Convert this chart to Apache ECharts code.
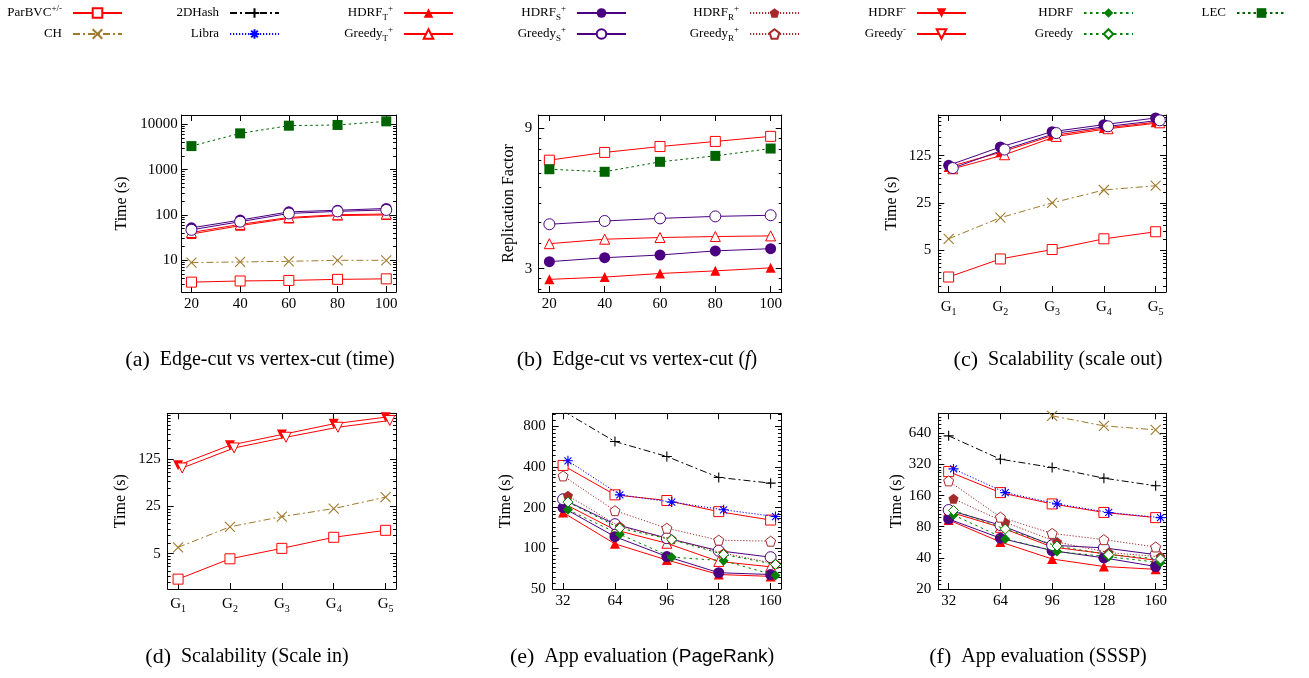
<!DOCTYPE html>
<html><head><meta charset="utf-8">
<script src="https://cdn.jsdelivr.net/npm/echarts@6/dist/echarts.min.js"></script>
<style>html,body{margin:0;padding:0;background:#fff}#c{width:1309px;height:678px}</style>
</head><body><div id="c"></div>
<script>
// ---------------- data ----------------
const xTime = [20, 40, 60, 80, 100];      // (a),(b)
const xScale = [1, 2, 3, 4, 5];           // G1..G5  (c),(d)
const xApp = [32, 64, 96, 128, 160];      // (e),(f)

// (a) Edge-cut vs vertex-cut (time)
const a_ParBVC = [3.3, 3.5, 3.6, 3.8, 3.9];
const a_CH = [8.9, 9.2, 9.5, 10.0, 10.0];
const a_HDRF_T = [38, 58, 84, 97, 100];
const a_Greedy_T = [41, 62, 88, 101, 105];
const a_HDRF_S = [52, 77, 117, 127, 139];
const a_Greedy_S = [47, 71, 108, 120, 129];
const a_LEC = [3300, 6300, 9300, 9650, 11600];

// (b) Edge-cut vs vertex-cut (f)
const b_ParBVC = [7.02, 7.46, 7.81, 8.13, 8.46];
const b_HDRF_T = [2.76, 2.81, 2.89, 2.95, 3.02];
const b_Greedy_T = [3.65, 3.78, 3.83, 3.86, 3.88];
const b_HDRF_S = [3.17, 3.27, 3.34, 3.45, 3.51];
const b_Greedy_S = [4.25, 4.36, 4.45, 4.52, 4.56];
const b_LEC = [6.54, 6.41, 6.93, 7.26, 7.69];

// (c) Scalability (scale out)
const c_ParBVC = [2.0, 3.7, 5.1, 7.35, 9.35];
const c_CH = [7.35, 15.1, 25, 38.8, 44.9];
const c_HDRF_T = [85, 140, 247, 321, 390];
const c_Greedy_T = [80, 129, 241, 313, 383];
const c_HDRF_S = [90, 168, 283, 360, 452];
const c_Greedy_S = [82, 154, 270, 340, 417];

// (d) Scalability (Scale in)
const d_ParBVC = [2.1, 4.2, 6.0, 8.75, 11.1];
const d_CH = [6.2, 12.5, 17.7, 23.3, 34.4];
const d_HDRF_m = [102, 202, 291, 419, 526];
const d_Greedy_m = [93, 184, 265, 373, 469];

// (e) App evaluation (PageRank)
const e_ParBVC = [411, 249, 226, 187, 162];
const e_2DHash = [1040, 618, 479, 335, 304];
const e_Libra = [445, 249, 220, 193, 172];
const e_HDRF_T = [184, 108, 82, 64, 62];
const e_Greedy_T = [216, 137, 109, 80, 73];
const e_HDRF_S = [200, 122, 87, 66, 64];
const e_Greedy_S = [231, 151, 119, 96, 86];
const e_HDRF_R = [245, 145, 117, 92, 77];
const e_Greedy_R = [344, 190, 141, 115, 113];
const e_HDRF = [193, 127, 86, 81, 63];
const e_Greedy = [220, 141, 116, 90, 76];

// (f) App evaluation (SSSP)
const f_ParBVC = [273, 171, 133, 110, 98];
const f_CH = [null, null, 945, 756, 692];
const f_2DHash = [605, 360, 299, 236, 199];
const f_Libra = [290, 171, 133, 110, 98];
const f_HDRF_T = [93, 57, 39, 33, 31];
const f_Greedy_T = [112, 79, 51, 44, 38];
const f_HDRF_S = [95, 62, 47, 40, 33];
const f_Greedy_S = [116, 83, 53, 50, 43];
const f_HDRF_R = [149, 88, 57, 45, 41];
const f_Greedy_R = [222, 99, 69, 60, 51];
const f_HDRF = [104, 61, 46, 41, 36];
const f_Greedy = [115, 76, 52, 43, 39];

// tick labels
const ticksA = [10, 100, 1000, 10000];
const ticksB = [3, 9];
const ticksCD = [5, 25, 125];
const ticksE = [50, 100, 200, 400, 800];
const ticksF = [20, 40, 80, 160, 320, 640];

// ---------------- styles ----------------
const F = "'Liberation Serif','Times New Roman',serif";
const SANS = "'Liberation Sans','DejaVu Sans',sans-serif";
const X_PATH = 'path://M0,0L10,10M10,0L0,10';
const PLUS_PATH = 'path://M5,0L5,10M0,5L10,5';
const STAR_PATH = 'path://M5,0L5,10M0,5L10,5M1.5,1.5L8.5,8.5M8.5,1.5L1.5,8.5';
const PENT = 'path://M5,0L9.76,3.45L7.94,9.05L2.06,9.05L0.24,3.45Z';
const RED = '#ff0000', PUR = '#4b0082', BRN = '#a52a2a', GRN = '#008000', DGRN = '#006400', GOLD = '#a07a2c';
const STY = {
  'ParBVC+/-': {c: RED, sym: 'rect', mode: 'open', dash: 'solid'},
  'CH': {c: GOLD, sym: X_PATH, mode: 'stroke', dash: [7, 3, 2, 3]},
  '2DHash': {c: '#000', sym: PLUS_PATH, mode: 'stroke', dash: [7, 3, 2, 3]},
  'Libra': {c: '#0000ff', sym: STAR_PATH, mode: 'stroke', dash: [1.2, 1.8]},
  'HDRF_T+': {c: RED, sym: 'triangle', mode: 'fill', dash: 'solid'},
  'Greedy_T+': {c: RED, sym: 'triangle', mode: 'open', dash: 'solid'},
  'HDRF_S+': {c: PUR, sym: 'circle', mode: 'fill', dash: 'solid'},
  'Greedy_S+': {c: PUR, sym: 'circle', mode: 'open', dash: 'solid'},
  'HDRF_R+': {c: BRN, sym: PENT, mode: 'fill', dash: [1.2, 1.8]},
  'Greedy_R+': {c: BRN, sym: PENT, mode: 'open', dash: [1.2, 1.8]},
  'HDRF-': {c: RED, sym: 'triangle', mode: 'fill', dash: 'solid', rot: 180},
  'Greedy-': {c: RED, sym: 'triangle', mode: 'open', dash: 'solid', rot: 180},
  'HDRF': {c: GRN, sym: 'diamond', mode: 'fill', dash: [2.5, 3.5]},
  'Greedy': {c: GRN, sym: 'diamond', mode: 'open', dash: [2.5, 3.5]},
  'LEC': {c: DGRN, sym: 'rect', mode: 'fill', dash: [2.5, 3]}
};

function minors(majors, lo, hi) {
  const r = majors[1] / majors[0];
  const ext = [majors[0] / r].concat(majors, [majors[majors.length - 1] * r]);
  const out = [];
  for (let i = 0; i < ext.length - 1; i++) {
    const a = ext[i], b = ext[i + 1];
    for (let k = 1; k < 9; k++) {
      const v = a + k * (b - a) / 9;
      if (v > lo && v < hi) out.push(v);
    }
  }
  return out;
}

const gFmt = v => '{g|G}{s|' + v + '}';
const gRich = {
  g: {fontFamily: F, fontSize: 15, color: '#000', lineHeight: 20},
  s: {fontFamily: F, fontSize: 10, color: '#000', lineHeight: 10, verticalAlign: 'bottom'}
};

const panels = [
  {g: [181.7, 115, 214.3, 177], xmin: 16, xmax: 104, xt: xTime, xf: null,
   ymin: 2, ymax: 16000, yt: ticksA, yname: 'Time (s)', gap: 52, lm: 4,
   series: [['ParBVC+/-', xTime, a_ParBVC, 0], ['CH', xTime, a_CH, 0], ['HDRF_T+', xTime, a_HDRF_T, 0],
            ['Greedy_T+', xTime, a_Greedy_T, 0], ['HDRF_S+', xTime, a_HDRF_S, 0], ['Greedy_S+', xTime, a_Greedy_S, 0],
            ['LEC', xTime, a_LEC, 0]]},
  {g: [538.3, 115, 243.4, 177], xmin: 16, xmax: 104, xt: xTime, xf: null,
   ymin: 2.5, ymax: 10, yt: ticksB, yname: 'Replication Factor', gap: 22, lm: 6,
   series: [['ParBVC+/-', xTime, b_ParBVC, 0], ['HDRF_T+', xTime, b_HDRF_T, 0], ['Greedy_T+', xTime, b_Greedy_T, 0],
            ['HDRF_S+', xTime, b_HDRF_S, 0], ['Greedy_S+', xTime, b_Greedy_S, 0], ['LEC', xTime, b_LEC, 0]]},
  {g: [938.3, 115, 227.7, 177], xmin: 0.8, xmax: 5.2, xt: xScale, xf: gFmt,
   ymin: 1.2, ymax: 500, yt: ticksCD, yname: 'Time (s)', gap: 39, lm: 7,
   series: [['ParBVC+/-', xScale, c_ParBVC, 0], ['CH', xScale, c_CH, 0], ['HDRF_T+', xScale, c_HDRF_T, 0],
            ['Greedy_T+', xScale, c_Greedy_T, 0.08], ['HDRF_S+', xScale, c_HDRF_S, 0], ['Greedy_S+', xScale, c_Greedy_S, 0.08]]},
  {g: [167.7, 413.3, 228.3, 175.7], xmin: 0.8, xmax: 5.2, xt: xScale, xf: gFmt,
   ymin: 1.5, ymax: 600, yt: ticksCD, yname: 'Time (s)', gap: 39, lm: 7,
   series: [['ParBVC+/-', xScale, d_ParBVC, 0], ['CH', xScale, d_CH, 0], ['HDRF-', xScale, d_HDRF_m, 0],
            ['Greedy-', xScale, d_Greedy_m, 0.08]]},
  {g: [552.7, 413.3, 228.3, 175.7], xmin: 25.6, xmax: 166.4, xt: xApp, xf: null,
   ymin: 50, ymax: 1000, yt: ticksE, yname: 'Time (s)', gap: 39, lm: 7,
   series: [['ParBVC+/-', xApp, e_ParBVC, 0], ['2DHash', xApp, e_2DHash, 0], ['Libra', xApp, e_Libra, 3],
            ['HDRF_T+', xApp, e_HDRF_T, 0], ['Greedy_T+', xApp, e_Greedy_T, 0], ['HDRF_S+', xApp, e_HDRF_S, 0],
            ['Greedy_S+', xApp, e_Greedy_S, 0], ['HDRF_R+', xApp, e_HDRF_R, 3], ['Greedy_R+', xApp, e_Greedy_R, 0],
            ['HDRF', xApp, e_HDRF, 3], ['Greedy', xApp, e_Greedy, 3]]},
  {g: [938.3, 413.3, 227.7, 175.7], xmin: 25.6, xmax: 166.4, xt: xApp, xf: null,
   ymin: 20, ymax: 1000, yt: ticksF, yname: 'Time (s)', gap: 34, lm: 7,
   series: [['ParBVC+/-', xApp, f_ParBVC, 0], ['CH', xApp, f_CH, 0], ['2DHash', xApp, f_2DHash, 0],
            ['Libra', xApp, f_Libra, 3], ['HDRF_T+', xApp, f_HDRF_T, 0], ['Greedy_T+', xApp, f_Greedy_T, 0],
            ['HDRF_S+', xApp, f_HDRF_S, 0], ['Greedy_S+', xApp, f_Greedy_S, 0], ['HDRF_R+', xApp, f_HDRF_R, 3],
            ['Greedy_R+', xApp, f_Greedy_R, 0], ['HDRF', xApp, f_HDRF, 3], ['Greedy', xApp, f_Greedy, 3]]}
];

const option = {animation: false, backgroundColor: '#fff', grid: [], xAxis: [], yAxis: [], series: [], legend: [], graphic: []};
const black = {color: '#000', width: 1};

panels.forEach((p, gi) => {
  option.grid.push({left: p.g[0], top: p.g[1], width: p.g[2], height: p.g[3]});
  const xi = option.xAxis.length;
  const xBase = {gridIndex: gi, type: 'value', min: p.xmin, max: p.xmax, splitLine: {show: false},
    axisLine: {show: true, onZero: false, lineStyle: black},
    axisTick: {show: true, inside: true, length: 6, customValues: p.xt, lineStyle: black}};
  option.xAxis.push(Object.assign({}, xBase, {position: 'bottom',
    axisLabel: {show: true, customValues: p.xt, margin: 5, fontFamily: F, fontSize: 15, color: '#000',
      formatter: p.xf || (v => String(v)), rich: gRich}}));
  option.xAxis.push(Object.assign({}, xBase, {position: 'top', axisLabel: {show: false}}));

  const yi = option.yAxis.length;
  const mn = minors(p.yt, p.ymin, p.ymax);
  const yBase = {gridIndex: gi, type: 'log', logBase: 10, min: p.ymin, max: p.ymax, splitLine: {show: false},
    axisLine: {show: true, lineStyle: black},
    axisTick: {show: true, inside: true, length: 6, customValues: p.yt, lineStyle: black}};
  option.yAxis.push(Object.assign({}, yBase, {position: 'left',
    name: p.yname, nameLocation: 'middle', nameGap: p.gap,
    nameTextStyle: {fontFamily: F, fontSize: 16, color: '#000'},
    axisLabel: {show: true, customValues: p.yt, margin: p.lm, fontFamily: F, fontSize: 15, color: '#000',
      formatter: v => String(Math.round(v))}}));
  option.yAxis.push(Object.assign({}, yBase, {position: 'right', axisLabel: {show: false}}));
  ['left', 'right'].forEach(pos => {
    option.yAxis.push({gridIndex: gi, type: 'log', logBase: 10, min: p.ymin, max: p.ymax, position: pos,
      splitLine: {show: false}, axisLine: {show: false}, axisLabel: {show: false},
      axisTick: {show: true, inside: true, length: 3, customValues: mn, lineStyle: black}});
  });

  p.series.forEach(([name, xs, ys, off], si) => {
    const s = STY[name];
    let itemStyle;
    if (s.mode === 'fill') itemStyle = {color: s.c, borderWidth: 0};
    else if (s.mode === 'open') itemStyle = {color: '#fff', borderColor: s.c, borderWidth: 1};
    else itemStyle = {color: s.c, borderColor: s.c, borderWidth: 1.1};
    option.series.push({
      type: 'line', name: name, xAxisIndex: xi, yAxisIndex: yi,
      data: xs.map((x, i) => [x + off, ys[i]]),
      symbol: s.sym, symbolSize: name.indexOf('S+') >= 0 ? 11 : 10, symbolRotate: s.rot || 0,
      itemStyle: itemStyle,
      lineStyle: {color: s.c, width: 1, type: s.dash},
      z: 2 + si * 0.01, clip: true, emphasis: {disabled: true}, silent: true
    });
  });
});

// ---------------- legend ----------------
const legendCols = [['ParBVC+/-', 'CH'], ['2DHash', 'Libra'], ['HDRF_T+', 'Greedy_T+'], ['HDRF_S+', 'Greedy_S+'],
  ['HDRF_R+', 'Greedy_R+'], ['HDRF-', 'Greedy-'], ['HDRF', 'Greedy'], ['LEC']];
const legendRight = [123, 280, 454, 627, 800, 967, 1134, 1287];
const Z = '\u200b';
const legendLabel = {
  'ParBVC+/-': '{n|ParBVC}{sb|' + Z + '}{sp|+/-}', 'CH': '{n|CH}{sb|' + Z + '}{sp|' + Z + '}',
  '2DHash': '{n|2DHash}{sb|' + Z + '}{sp|' + Z + '}', 'Libra': '{n|Libra}{sb|' + Z + '}{sp|' + Z + '}',
  'HDRF_T+': '{n|HDRF}{sb|T}{sp|+}', 'Greedy_T+': '{n|Greedy}{sb|T}{sp|+}',
  'HDRF_S+': '{n|HDRF}{sb|S}{sp|+}', 'Greedy_S+': '{n|Greedy}{sb|S}{sp|+}',
  'HDRF_R+': '{n|HDRF}{sb|R}{sp|+}', 'Greedy_R+': '{n|Greedy}{sb|R}{sp|+}',
  'HDRF-': '{n|HDRF}{sb|' + Z + '}{sp|-}', 'Greedy-': '{n|Greedy}{sb|' + Z + '}{sp|-}',
  'HDRF': '{n|HDRF}{sb|' + Z + '}{sp|' + Z + '}', 'Greedy': '{n|Greedy}{sb|' + Z + '}{sp|' + Z + '}',
  'LEC': '{n|LEC}{sb|' + Z + '}{sp|' + Z + '}'
};
const legRich = {
  n: {fontFamily: F, fontSize: 13, color: '#000', lineHeight: 18},
  sp: {fontFamily: F, fontSize: 9, color: '#000', lineHeight: 8, verticalAlign: 'top'},
  sb: {fontFamily: F, fontSize: 9, color: '#000', lineHeight: 8, verticalAlign: 'bottom'}
};
legendCols.forEach((col, i) => {
  option.legend.push({
    orient: 'vertical', align: 'right', right: 1309 - legendRight[i], top: 4, padding: 0, itemGap: 3,
    itemWidth: 49, itemHeight: 12, selectedMode: false, data: col,
    formatter: n => legendLabel[n],
    textStyle: {fontFamily: F, fontSize: 13, color: '#000', padding: [0, 6, 0, 0], rich: legRich}
  });
});

// ---------------- captions ----------------
const capRich = {
  l: {fontFamily: F, fontSize: 22, color: '#000'},
  t: {fontFamily: F, fontSize: 20, color: '#000'},
  i: {fontFamily: F, fontSize: 20, color: '#000', fontStyle: 'italic'},
  s: {fontFamily: SANS, fontSize: 19, color: '#000'}
};
const captions = [
  [260, 360, '{l|(a)}  {t|Edge-cut vs vertex-cut (time)}'],
  [637, 360, '{l|(b)}  {t|Edge-cut vs vertex-cut (}{i|f}{t|)}'],
  [1058, 360, '{l|(c)}  {t|Scalability (scale out)}'],
  [247, 657, '{l|(d)}  {t|Scalability (Scale in)}'],
  [642, 657, '{l|(e)}  {t|App evaluation (}{s|PageRank}{t|)}'],
  [1038, 657, '{l|(f)}  {t|App evaluation (SSSP)}']
];
captions.forEach(([x, y, t]) => {
  option.graphic.push({type: 'text', x: x, y: y, silent: true,
    style: {text: t, align: 'center', verticalAlign: 'middle', rich: capRich, fontFamily: F, fontSize: 20, fill: '#000'}});
});

const chart = echarts.init(document.getElementById('c'), null, {renderer: 'canvas'});
chart.setOption(option);
</script></body></html>
